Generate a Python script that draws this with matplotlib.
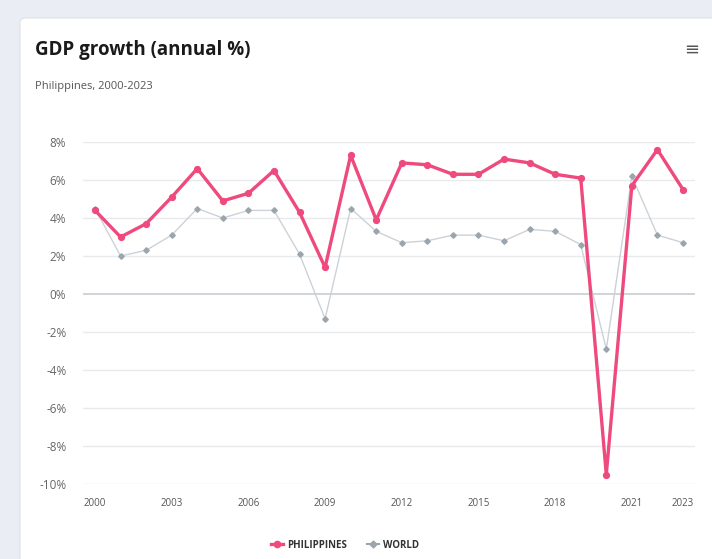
import matplotlib.pyplot as plt
from matplotlib.patches import FancyBboxPatch
from matplotlib.lines import Line2D

years = list(range(2000, 2024))
philippines = [4.4, 3.0, 3.7, 5.1, 6.6, 4.9, 5.3, 6.5, 4.3, 1.4, 7.3, 3.9,
               6.9, 6.8, 6.3, 6.3, 7.1, 6.9, 6.3, 6.1, -9.5, 5.7, 7.6, 5.5]
world = [4.5, 2.0, 2.3, 3.1, 4.5, 4.0, 4.4, 4.4, 2.1, -1.3, 4.5, 3.3,
         2.7, 2.8, 3.1, 3.1, 2.8, 3.4, 3.3, 2.6, -2.9, 6.2, 3.1, 2.7]
xticks = [2000, 2003, 2006, 2009, 2012, 2015, 2018, 2021, 2023]
yticks = [-10, -8, -6, -4, -2, 0, 2, 4, 6, 8]

plt.rcParams['font.family'] = ['Open Sans', 'DejaVu Sans']

pink = '#ee4a7d'
grey_line = '#ccd2d7'
grey_mark = '#9aa5ae'

fig = plt.figure(figsize=(7.12, 5.59), dpi=100)
fig.patch.set_facecolor('#eaedf4')

# white card behind everything
card = FancyBboxPatch((20 / 712, -0.05), 1.0, 1 - 18 / 559 + 0.05,
                      boxstyle='round,pad=0,rounding_size=0.008',
                      transform=fig.transFigure, facecolor='white',
                      edgecolor='#dde1e8', linewidth=0.8, zorder=-5)
fig.patches.append(card)

fig.text(35 / 712, 1 - 50 / 559, 'GDP growth (annual %)', fontsize=13.5,
         fontweight='bold', color='#1a1a1a', va='center', ha='left')
fig.text(35 / 712, 1 - 86 / 559, 'Philippines, 2000-2023', fontsize=8,
         color='#555555', va='center', ha='left')
fig.text(692 / 712, 1 - 50 / 559, '\u2261', fontsize=13, color='#555555',
         va='center', ha='center')

ax = fig.add_axes([83 / 712, 1 - 484 / 559, (695 - 83) / 712, (484 - 142) / 559])
ax.set_zorder(2)
ax.set_facecolor('none')
ax.set_xlim(2000 - 0.47, 2023 + 0.47)
ax.set_ylim(-10, 8)

for y in yticks:
    if y == 0:
        ax.axhline(y, color='#c8cdd2', linewidth=1.2, zorder=1)
    else:
        ax.axhline(y, color='#e8eaed', linewidth=1, zorder=1)

ax.plot(years, world, color=grey_line, linewidth=1, marker='D', markersize=2.8,
        markerfacecolor=grey_mark, markeredgecolor=grey_mark, zorder=2,
        clip_on=False)
ax.plot(years, philippines, color=pink, linewidth=2.4, marker='o', markersize=4.2,
        markerfacecolor=pink, markeredgecolor=pink, zorder=3, clip_on=False)

ax.set_xticks(xticks)
ax.set_xticklabels([str(x) for x in xticks])
ax.set_yticks(yticks)
ax.set_yticklabels([f'{y}%' for y in yticks])
ax.tick_params(axis='x', length=0, labelsize=7, labelcolor='#555555', pad=10)
ax.tick_params(axis='y', length=0, labelsize=8.5, labelcolor='#666666', pad=12)
for s in ax.spines.values():
    s.set_visible(False)

handles = [
    Line2D([], [], color=pink, linewidth=2.4, marker='o', markersize=4.5, label='PHILIPPINES'),
    Line2D([], [], color=grey_mark, linewidth=1.5, marker='D', markersize=3.5, label='WORLD'),
]
leg = fig.legend(handles=handles, loc='center', bbox_to_anchor=(345 / 712, 1 - 545 / 559),
                 ncol=2, frameon=False, fontsize=7, handlelength=1.3,
                 handletextpad=0.4, columnspacing=2.0)
for t in leg.get_texts():
    t.set_color('#333333')
    t.set_fontweight('bold')

fig.savefig('out.png', dpi=100, facecolor=fig.get_facecolor())
